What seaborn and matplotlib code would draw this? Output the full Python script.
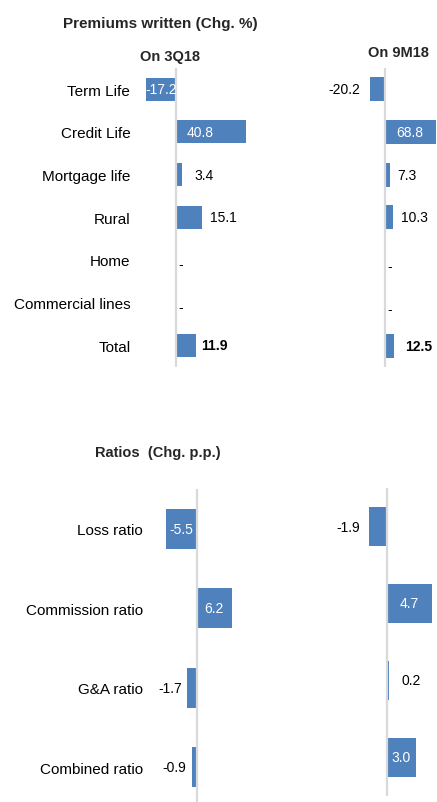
import numpy as np
import matplotlib
matplotlib.use("Agg")
import matplotlib.pyplot as plt
import seaborn as sns

# ---- data ----
premium_lines = ["Term Life", "Credit Life", "Mortgage life", "Rural",
                 "Home", "Commercial lines", "Total"]
premium_3q18 = [-17.2, 40.8, 3.4, 15.1, np.nan, np.nan, 11.9]
premium_9m18 = [-20.2, 68.8, 7.3, 10.3, np.nan, np.nan, 12.5]

ratio_names = ["Loss ratio", "Commission ratio", "G&A ratio", "Combined ratio"]
ratio_3q18 = [-5.5, 6.2, -1.7, -0.9]
ratio_9m18 = [-1.9, 4.7, 0.2, 3.0]

# ---- style ----
sns.set_style("white")
plt.rcParams["font.family"] = ["Liberation Sans", "DejaVu Sans"]

BLUE = "#4F81BD"
GRID = "#D9D9D9"
W, H = 437, 803
DPI = 100

fig = plt.figure(figsize=(W / DPI, H / DPI), dpi=DPI)
fig.patch.set_facecolor("white")


def px_axes(left, top, right, bottom):
    """Axes placed with pixel edges measured from the top-left corner."""
    return fig.add_axes([left / W, 1 - bottom / H,
                         (right - left) / W, (bottom - top) / H])


def px2pt(p):
    return p * 72.0 / DPI


def panel(ax, cats, vals, xlim, modes, bar_width, show_labels,
          label_pad=8, fs_val=10, fs_cat=11, bold_rows=(), dash_drop=4):
    data_c = [c for c, v in zip(cats, vals) if not np.isnan(v)]
    data_v = [v for v in vals if not np.isnan(v)]
    sns.barplot(x=data_v, y=data_c, order=cats, orient="h", color=BLUE,
                saturation=1, width=bar_width, errorbar=None, ax=ax,
                linewidth=0)
    ax.set_xlim(*xlim)
    ax.set_ylim(len(cats) - 0.5, -0.5)
    ax.axvline(0, color=GRID, lw=1.6, zorder=3)
    for s in ax.spines.values():
        s.set_visible(False)
    ax.set_xticks([])
    ax.set_xlabel("")
    ax.set_ylabel("")
    ax.patch.set_alpha(0)
    if show_labels:
        ax.tick_params(axis="y", length=0, pad=label_pad)
        ax.set_yticks(range(len(cats)))
        ax.set_yticklabels(cats, fontsize=fs_cat, color="black")
    else:
        ax.set_yticks([])

    for i, (v, mode) in enumerate(zip(vals, modes)):
        weight = "bold" if i in bold_rows else "normal"
        if np.isnan(v):
            # no figure reported for this line: a dash beside the axis
            ax.annotate("-", xy=(0, i), xytext=(px2pt(2), -px2pt(dash_drop)),
                        textcoords="offset points", ha="left", va="center",
                        fontsize=fs_val, color="black", zorder=4)
            continue
        txt = f"{v:.1f}"
        if mode == "in":
            ax.text(v / 2, i, txt, ha="center", va="center", color="white",
                    fontsize=fs_val, fontweight=weight, zorder=4)
        elif mode == "in_base":
            ax.annotate(txt, xy=(0, i), xytext=(px2pt(11), 0),
                        textcoords="offset points", ha="left", va="center",
                        color="white", fontsize=fs_val, fontweight=weight,
                        zorder=4)
        else:
            off = px2pt(mode) if isinstance(mode, (int, float)) else px2pt(8)
            if v >= 0:
                ax.annotate(txt, xy=(v, i), xytext=(off, 0),
                            textcoords="offset points", ha="left",
                            va="center", color="black", fontsize=fs_val,
                            fontweight=weight, zorder=4)
            else:
                ax.annotate(txt, xy=(v, i), xytext=(-off, 0),
                            textcoords="offset points", ha="right",
                            va="center", color="black", fontsize=fs_val,
                            fontweight=weight, zorder=4)


# ---- premiums written ----
ax1 = px_axes(140, 69, 262, 367.5)
panel(ax1, premium_lines, premium_3q18,
      xlim=(-(176 - 140) / 1.72, (262 - 176) / 1.72),
      modes=["in", "in_base", 13, 8, None, None, 5],
      bar_width=0.54, show_labels=True, label_pad=7, bold_rows=(6,),
      dash_drop=4)

ax2 = px_axes(320, 68.6, 437, 368.2)
panel(ax2, premium_lines, premium_9m18,
      xlim=(-(385 - 320) / 0.745, (437 - 385) / 0.745),
      modes=[10, "in_base", 7, 8, None, None, 11],
      bar_width=0.56, show_labels=False, bold_rows=(6,), dash_drop=6)

# ---- ratios ----
ax3 = px_axes(150, 490, 300, 808)
panel(ax3, ratio_names, ratio_3q18,
      xlim=(-(197 - 150) / 5.6, (300 - 197) / 5.6),
      modes=["in", "in", 5, 6],
      bar_width=0.5, show_labels=True, label_pad=5)

ax4 = px_axes(340, 489, 437, 797)
panel(ax4, ratio_names, ratio_9m18,
      xlim=(-(387 - 340) / 9.5, (437 - 387) / 9.5),
      modes=[9, "in", 13, "in"],
      bar_width=0.5, show_labels=False)

# ---- titles ----
fig.text(160 / W, 1 - 24 / H, "Premiums written (Chg. %)", ha="center",
         va="center", fontsize=11, fontweight="bold")
fig.text(170 / W, 1 - 57 / H, "On 3Q18", ha="center", va="center",
         fontsize=10.5, fontweight="bold")
fig.text(398 / W, 1 - 53 / H, "On 9M18", ha="center", va="center",
         fontsize=10.5, fontweight="bold")
fig.text(158 / W, 1 - 453 / H, "Ratios  (Chg. p.p.)", ha="center",
         va="center", fontsize=10.5, fontweight="bold")

fig.savefig("out.png", dpi=DPI, facecolor="white")
